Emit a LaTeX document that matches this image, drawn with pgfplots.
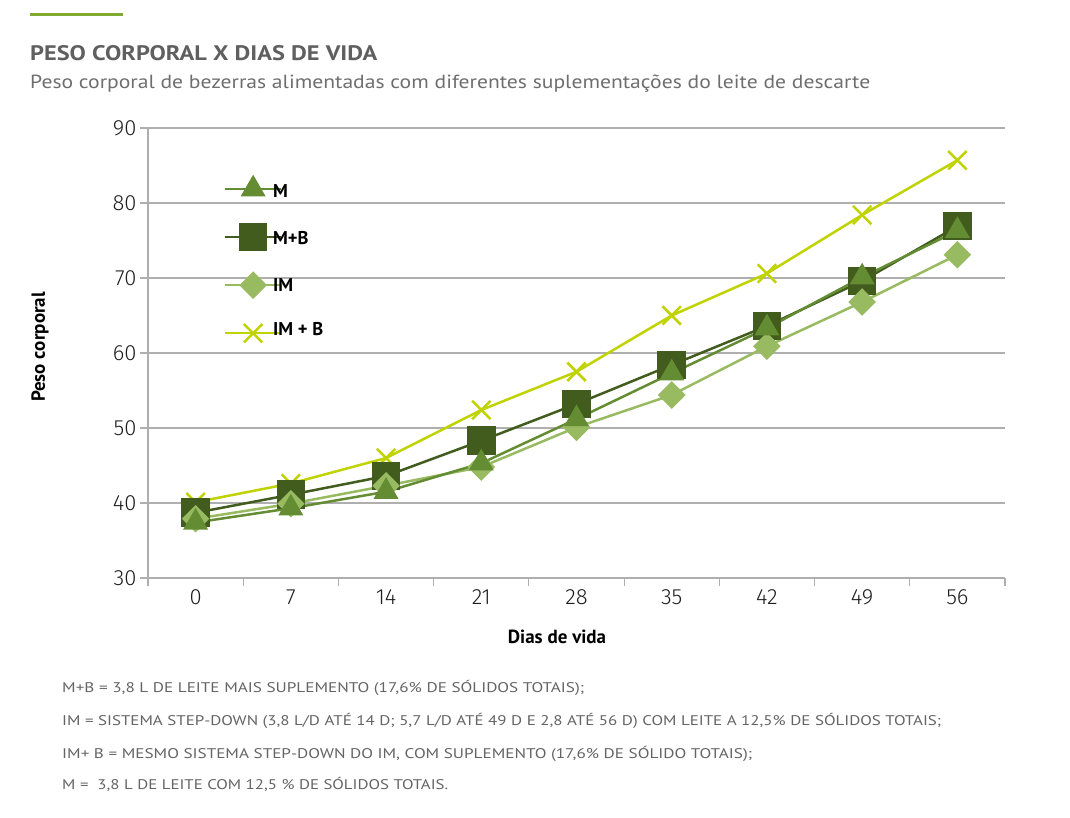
\documentclass[border=0pt]{standalone}
\usepackage{pgfplots}
\pgfplotsset{compat=1.18}
\usepackage{fontspec}
\setmainfont{PT Sans}
\newfontfamily\tickfont{Fira Sans Light}
\definecolor{cM}{RGB}{100,140,50}
\definecolor{cMB}{RGB}{66,92,30}
\definecolor{cIM}{RGB}{152,186,96}
\definecolor{cIMB}{RGB}{192,210,0}
\definecolor{gridc}{RGB}{175,175,175}
\definecolor{rulec}{RGB}{130,170,50}
\definecolor{titc}{RGB}{95,95,95}
\definecolor{subc}{RGB}{110,110,110}
\definecolor{footc}{RGB}{100,100,100}
\begin{document}
\begin{tikzpicture}[x=1pt,y=1pt]
\path[use as bounding box] (0,0) rectangle (1070,818);
\draw[rulec, line width=3pt] (30,803) -- (123,803);
\node[anchor=base west, inner sep=0pt, text=titc, font=\fontsize{21}{24}\selectfont\bfseries] at (30,757) {\resizebox{347pt}{\height}{PESO CORPORAL X DIAS DE VIDA}};
\node[anchor=base west, inner sep=0pt, text=subc, font=\fontsize{19}{22}\selectfont] at (30,729) {\resizebox{840pt}{\height}{Peso corporal de bezerras alimentadas com diferentes suplementações do leite de descarte}};
\begin{axis}[
  at={(148pt,240pt)}, anchor=south west,
  scale only axis, width=857pt, height=450pt,
  xmin=-0.5, xmax=8.5, ymin=30, ymax=90,
  ytick={30,40,...,90},
  xtick={0,...,8},
  xticklabels={0,7,14,21,28,35,42,49,56},
  minor xtick={-0.5,0.5,...,8.5},
  major x tick style={draw=none},
  minor x tick style={draw=gridc, line width=1.2pt},
  major y tick style={draw=gridc, line width=1.2pt},
  major tick length=8pt, minor tick length=8pt,
  tick align=outside,
  axis x line*=bottom, axis y line*=left,
  axis line style={draw=gridc, line width=1.2pt, -},
  ymajorgrids, grid style={draw=gridc, line width=1.2pt},
  ytick pos=left,
  /pgf/number format/assume math mode=true,
  tick label style={font=\tickfont\fontsize{22}{22}\selectfont, text={rgb,255:red,30;green,30;blue,30}},
  clip=false,
  legend cell align=left,
  legend style={at={(0.0898,0.9178)}, anchor=north west, draw=none, fill=none, inner sep=0pt,
     nodes={inner sep=0pt, font=\fontsize{18.5}{18.5}\selectfont\bfseries}, row sep=0pt, column sep=0pt},
  legend image code/.code={
    \path[draw=none, fill=none] (0pt,-24pt) rectangle (48pt,24pt);
    \draw[#1, mark=none, overlay] (0pt,0pt) -- (56pt,0pt);
    \path[#1, draw=none, overlay] plot coordinates {(28pt,0pt)};
  },
]
\addlegendimage{cM, line width=2.5pt, mark=triangle*, mark size=12pt, mark options={solid}}
\addlegendentry{\raisebox{-6pt}{M}}
\addlegendimage{cMB, line width=2.5pt, mark=square*, mark size=13pt, mark options={solid}}
\addlegendentry{\raisebox{-3pt}{M+B}}
\addlegendimage{cIM, line width=2.5pt, mark=square*, mark size=8.5pt, mark options={solid, rotate=45}}
\addlegendentry{\raisebox{-1pt}{IM}}
\addlegendimage{cIMB, line width=2.5pt, mark=x, mark size=13pt, mark options={solid}}
\addlegendentry{\raisebox{6pt}{IM + B}}

\addplot[forget plot, cIMB, line width=2.5pt, mark=x, mark size=13pt] coordinates {
(0,40.1)(1,42.6)(2,46.0)(3,52.4)(4,57.5)(5,65.0)(6,70.6)(7,78.4)(8,85.7)};
\addplot[forget plot, cMB, line width=2.5pt, mark=square*, mark size=13pt] coordinates {
(0,38.7)(1,41.1)(2,43.6)(3,48.3)(4,53.2)(5,58.4)(6,63.6)(7,69.6)(8,76.9)};
\addplot[forget plot, cIM, line width=2.5pt, mark=square*, mark size=8.5pt, mark options={rotate=45}] coordinates {
(0,37.9)(1,39.9)(2,42.3)(3,44.8)(4,50.1)(5,54.4)(6,60.9)(7,66.8)(8,73.1)};
\addplot[forget plot, cM, line width=2.5pt, mark=triangle*, mark size=12pt] coordinates {
(0,37.4)(1,39.3)(2,41.5)(3,45.3)(4,51.2)(5,57.3)(6,63.3)(7,70.1)(8,76.3)};
\end{axis}
\node[rotate=90, font=\fontsize{19}{19}\selectfont\bfseries] at (40,471) {Peso corporal};
\node[font=\fontsize{19}{19}\selectfont\bfseries] at (557,181) {Dias de vida};
\begin{scope}[every node/.style={anchor=base west, inner sep=0pt, text=footc, font=\fontsize{14}{16}\selectfont}]
\node at (62,125) {\resizebox{522pt}{\height}{M+B = 3,8 L DE LEITE MAIS SUPLEMENTO (17,6\% DE SÓLIDOS TOTAIS);}};
\node at (62,92) {\resizebox{879pt}{\height}{IM = SISTEMA STEP-DOWN (3,8 L/D ATÉ 14 D; 5,7 L/D ATÉ 49 D E 2,8 ATÉ 56 D) COM LEITE A 12,5\% DE SÓLIDOS TOTAIS;}};
\node at (62,59) {\resizebox{690pt}{\height}{IM+ B = MESMO SISTEMA STEP-DOWN DO IM, COM SUPLEMENTO (17,6\% DE SÓLIDO TOTAIS);}};
\node at (62,28) {\resizebox{386pt}{\height}{M = \ 3,8 L DE LEITE COM 12,5 \% DE SÓLIDOS TOTAIS.}};
\end{scope}
\end{tikzpicture}
\end{document}
